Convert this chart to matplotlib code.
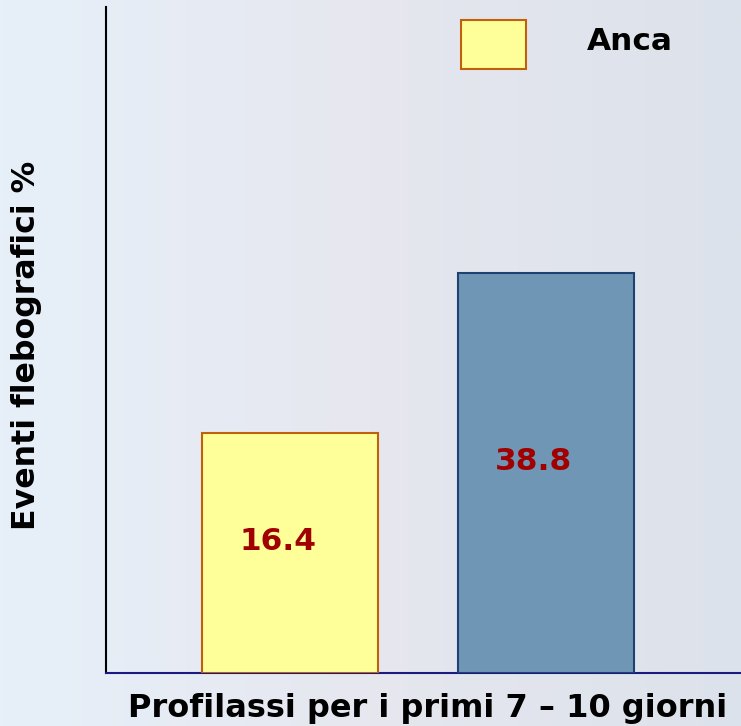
import numpy as np
import matplotlib.pyplot as plt
from matplotlib.patches import Rectangle
from matplotlib.colors import to_rgb

# two groups of prophylaxis, hip surgery (Anca)
categories = ['Anca', 'Controllo']
values = [16.4, 38.8]
value_labels = ['16.4', '38.8']
legend_label = 'Anca'

xlabel = 'Profilassi per i primi 7 \u2013 10 giorni'
ylabel = 'Eventi flebografici %'

BASE = -17.2        # hidden axis start, no ticks shown
TOP = 76.0

bar_colors = ['#FFFF99', '#6F97B5']
edge_colors = ['#C0600A', '#1F4272']
label_color = '#A00000'

W, H = 741, 726
fig = plt.figure(figsize=(W / 100, H / 100), dpi=100)

# soft slide background
bg = fig.add_axes([0, 0, 1, 1], zorder=-10)
bg.axis('off')
left = np.array(to_rgb('#E7F0F9'))
mid = np.array(to_rgb('#E6E7EF'))
right = np.array(to_rgb('#DCE2EB'))
t = np.linspace(0, 1, 300)
row = np.where(t[:, None] < 0.5,
               left + (mid - left) * (t[:, None] / 0.5),
               mid + (right - mid) * ((t[:, None] - 0.5) / 0.5))
grad = np.repeat(row[None, :, :], 50, axis=0)
bg.imshow(grad, aspect='auto', extent=[0, 1, 0, 1])

ax = fig.add_axes([106 / W, 1 - 673 / H, 1 - 106 / W, 666 / H])
ax.patch.set_alpha(0)

x = np.arange(len(values))
heights = [v - BASE for v in values]
ax.bar(x, heights, bottom=BASE, width=0.6875, color=bar_colors,
       edgecolor=edge_colors, linewidth=1.5, zorder=3)

for i, v in enumerate(values):
    ax.annotate(value_labels[i], xy=(x[i], (BASE + v) / 2), xytext=(-9, 8),
                textcoords='offset points', ha='center', va='center',
                fontsize=22.5, fontweight='bold', color=label_color, zorder=4)

ax.set_xlim(-0.719, 1.762)
ax.set_ylim(BASE, TOP)
ax.set_xticks([])
ax.set_yticks([])
for s in ['top', 'right']:
    ax.spines[s].set_visible(False)
ax.spines['left'].set_color('black')
ax.spines['left'].set_linewidth(1.5)
ax.spines['bottom'].set_color('#1A1A80')
ax.spines['bottom'].set_linewidth(1.5)

fig.text(428 / W, 1 - 708 / H, xlabel, ha='center', va='center',
         fontsize=23, fontweight='bold')
fig.text(27 / W, 1 - 345 / H, ylabel, ha='center', va='center',
         rotation=90, fontsize=22.8, fontweight='bold')

# legend key: swatch + label
fig.patches.append(Rectangle((461 / W, 1 - 69 / H), 65 / W, 49 / H,
                             transform=fig.transFigure, facecolor=bar_colors[0],
                             edgecolor=edge_colors[0], linewidth=1.5))
fig.text(587 / W, 1 - 41 / H, legend_label, ha='left', va='center',
         fontsize=22.5, fontweight='bold')

fig.savefig('out.png', dpi=100)
